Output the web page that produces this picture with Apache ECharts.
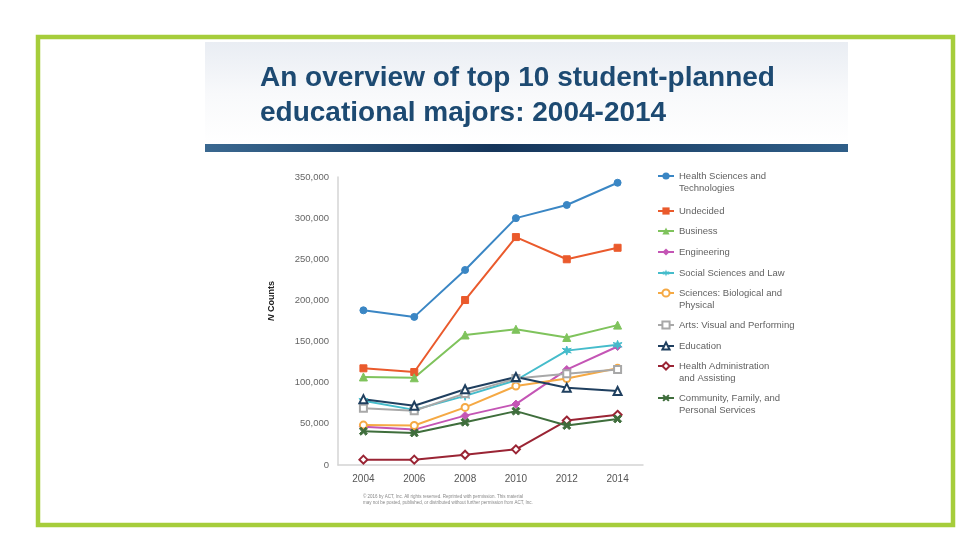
<!DOCTYPE html>
<html>
<head>
<meta charset="utf-8">
<script src="https://cdn.jsdelivr.net/npm/echarts@6/dist/echarts.min.js"></script>
<style>
html,body{margin:0;padding:0;background:#fff;}
#chart{width:975px;height:553px;}
</style>
</head>
<body>
<div id="chart"></div>
<script>
const years = ['2004', '2006', '2008', '2010', '2012', '2014'];
const seriesNames = [
  'Health Sciences and Technologies',
  'Undecided',
  'Business',
  'Engineering',
  'Social Sciences and Law',
  'Sciences: Biological and Physical',
  'Arts: Visual and Performing',
  'Education',
  'Health Administration and Assisting',
  'Community, Family, and Personal Services'
];
const legendLabels = [
  'Health Sciences and\nTechnologies',
  'Undecided',
  'Business',
  'Engineering',
  'Social Sciences and Law',
  'Sciences: Biological and\nPhysical',
  'Arts: Visual and Performing',
  'Education',
  'Health Administration\nand Assisting',
  'Community, Family, and\nPersonal Services'
];
const healthSciences = [188000, 180000, 237000, 300000, 316000, 343000];
const undecided      = [117500, 113000, 200500, 277000, 250000, 264000];
const business       = [107000, 106000, 158000, 165000, 155000, 170000];
const engineering    = [46500, 43000, 60000, 74000, 116000, 144000];
const socialSciences = [78000, 67000, 84000, 103000, 139000, 146000];
const sciences       = [48500, 48000, 70000, 96000, 105000, 117500];
const arts           = [69000, 66000, 87000, 105000, 111000, 116000];
const education      = [80000, 72000, 92000, 107000, 94000, 90000];
const healthAdmin    = [6500, 6500, 12500, 19000, 54000, 61000];
const community      = [41000, 39000, 52000, 65500, 48000, 56000];
const yTicks = ['0', '50,000', '100,000', '150,000', '200,000', '250,000', '300,000', '350,000'];
const footnote = ['\u00a9 2016 by ACT, Inc. All rights reserved. Reprinted with permission. This material',
                  'may not be posted, published, or distributed without further permission from ACT, Inc.'];

const allData = [healthSciences, undecided, business, engineering, socialSciences, sciences, arts, education, healthAdmin, community];
const colors = ['#3a86c4', '#ea5a2c', '#7fc35c', '#c455b5', '#45bccb', '#f5a944', '#a8a8a8', '#1f3f5f', '#9a2434', '#3f6e3c'];
const starPath = 'path://M0,-5L1,-1.73L4.33,-2.5L2,0L4.33,2.5L1,1.73L0,5L-1,1.73L-4.33,2.5L-2,0L-4.33,-2.5L-1,-1.73Z';
const xPath = 'path://M-5,-3L-3,-5L0,-2L3,-5L5,-3L2,0L5,3L3,5L0,2L-3,5L-5,3L-2,0Z';
const symbols = ['circle', 'rect', 'triangle', 'diamond', starPath, 'emptyCircle', 'emptyRect', 'emptyTriangle', 'emptyDiamond', xPath];
const symbolSizes = [7, 7, 8, 8, 9, 7, 7, 8, 8, 8];
const legendCenters = [176, 211, 231, 252, 273, 293, 325, 346, 366, 398];

const FONT = 'Liberation Sans, Arial, sans-serif';

const legends = seriesNames.map((n, i) => {
  const two = legendLabels[i].indexOf('\n') >= 0;
  return {
    data: [n],
    orient: 'vertical',
    left: 657,
    top: legendCenters[i] - (two ? 18 : 6),
    padding: 0,
    itemWidth: 16,
    itemHeight: 9,
    itemGap: 0,
    formatter: () => (two ? '\n' : '') + legendLabels[i],
    textStyle: { color: '#626262', fontSize: 9.5, lineHeight: 12, fontFamily: FONT }
  };
});

const chart = echarts.init(document.getElementById('chart'), null, { renderer: 'canvas' });
chart.setOption({
  animation: false,
  backgroundColor: '#ffffff',
  color: colors,
  graphic: [
    { type: 'rect', shape: { x: 38, y: 37, width: 915, height: 488 }, style: { fill: 'none', stroke: '#a6cd3b', lineWidth: 4.5 }, z: 0 },
    { type: 'rect', shape: { x: 205, y: 42, width: 643, height: 103 },
      style: { fill: new echarts.graphic.LinearGradient(0, 0, 0, 1, [{ offset: 0, color: '#e9edf3' }, { offset: 0.5, color: '#f8f9fb' }, { offset: 1, color: '#ffffff' }]) }, z: 0 },
    { type: 'rect', shape: { x: 205, y: 144, width: 643, height: 8 },
      style: { fill: new echarts.graphic.LinearGradient(0, 0, 1, 0, [{ offset: 0, color: '#3a6890' }, { offset: 0.45, color: '#15355a' }, { offset: 1, color: '#2f5e88' }]) }, z: 0 },
    { type: 'text', x: 260, y: 64, style: { text: 'An overview of top 10 student-planned', fill: '#1d4a72', font: 'bold 28px ' + FONT }, z: 1 },
    { type: 'text', x: 260, y: 99, style: { text: 'educational majors: 2004-2014', fill: '#1d4a72', font: 'bold 28px ' + FONT }, z: 1 },
    { type: 'text', x: 363, y: 494, style: { text: footnote[0], fill: '#888', font: '4.5px ' + FONT }, z: 1 },
    { type: 'text', x: 363, y: 500, style: { text: footnote[1], fill: '#888', font: '4.5px ' + FONT }, z: 1 }
  ],
  legend: legends,
  grid: { left: 338, right: 332, top: 177, bottom: 88 },
  xAxis: {
    type: 'category',
    data: years,
    boundaryGap: true,
    axisLine: { lineStyle: { color: '#d4d4d4', width: 1.5 } },
    axisTick: { show: false },
    axisLabel: { color: '#555', fontSize: 10, fontFamily: FONT, margin: 9 }
  },
  yAxis: {
    type: 'value',
    min: 0,
    max: 350000,
    interval: 50000,
    name: '{i|N} Counts',
    nameLocation: 'middle',
    nameGap: 62,
    nameRotate: 90,
    nameTextStyle: {
      color: '#222', fontSize: 9, fontWeight: 'bold', fontFamily: FONT, padding: [0, 0, 0, 40],
      rich: { i: { fontStyle: 'italic', fontWeight: 'bold', fontSize: 9, color: '#222', fontFamily: FONT } }
    },
    axisLine: { show: true, lineStyle: { color: '#d4d4d4', width: 1.5 } },
    axisTick: { show: false },
    splitLine: { show: false },
    axisLabel: { color: '#666', fontSize: 9.5, fontFamily: FONT, margin: 9, formatter: (v) => yTicks[Math.round(v / 50000)] }
  },
  series: seriesNames.map((n, i) => ({
    name: n,
    type: 'line',
    data: allData[i],
    symbol: symbols[i],
    symbolSize: symbolSizes[i],
    showAllSymbol: true,
    lineStyle: { width: 2, color: colors[i] },
    itemStyle: { color: colors[i], borderColor: colors[i] }
  }))
});
</script>
</body>
</html>
